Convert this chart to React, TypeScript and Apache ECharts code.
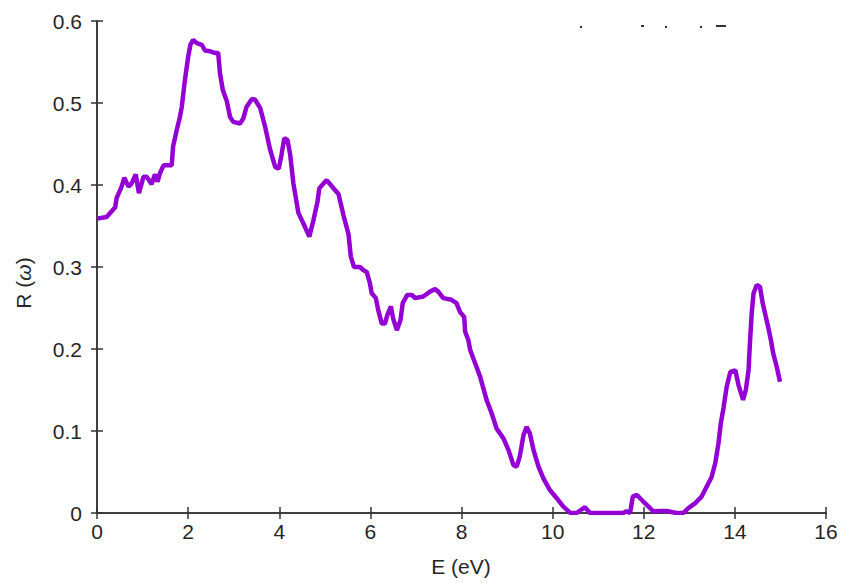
import React, { useEffect, useRef } from "react";
import * as echarts from "echarts";

const energy = [
  0, 0.21, 0.4, 0.43, 0.54, 0.6, 0.69, 0.76, 0.85, 0.92, 1.02, 1.09, 1.2, 1.27, 1.33, 1.38, 1.46, 1.64, 1.67, 1.75,
  1.82, 1.86, 1.93, 2.0, 2.05, 2.11, 2.19, 2.3, 2.37, 2.48, 2.59, 2.66, 2.7, 2.76, 2.85, 2.92, 2.99, 3.14, 3.21, 3.28,
  3.4, 3.47, 3.58, 3.69, 3.8, 3.91, 3.99, 4.05, 4.11, 4.18, 4.24, 4.31, 4.42, 4.53, 4.66, 4.75, 4.84, 4.88, 5.04, 5.19,
  5.3, 5.41, 5.52, 5.57, 5.64, 5.77, 5.85, 5.92, 5.99, 6.03, 6.12, 6.17, 6.25, 6.32, 6.37, 6.45, 6.5, 6.58, 6.66, 6.71,
  6.81, 6.91, 6.98, 7.16, 7.31, 7.42, 7.49, 7.6, 7.78, 7.89, 7.97, 8.06, 8.08, 8.15, 8.19, 8.25, 8.33, 8.41, 8.55, 8.66,
  8.77, 8.92, 9.03, 9.14, 9.21, 9.28, 9.36, 9.43, 9.5, 9.58, 9.69, 9.8, 9.94, 10.09, 10.23, 10.38, 10.53, 10.64, 10.71, 10.82,
  11.2, 11.55, 11.62, 11.7, 11.76, 11.85, 11.99, 12.1, 12.21, 12.39, 12.5, 12.72, 12.87, 12.98, 13.13, 13.27, 13.38, 13.49, 13.57, 13.64,
  13.69, 13.75, 13.82, 13.9, 14.01, 14.08, 14.18, 14.24, 14.3, 14.33, 14.37, 14.41, 14.48, 14.55, 14.61, 14.68, 14.73, 14.79, 14.84, 14.92,
  14.99,
];

const reflectivity = [
  0.359, 0.361, 0.373, 0.384, 0.398, 0.409, 0.398, 0.402, 0.413, 0.39, 0.41, 0.41, 0.401, 0.413, 0.404, 0.414, 0.424, 0.424, 0.447, 0.467,
  0.483, 0.495, 0.528, 0.556, 0.571, 0.577, 0.573, 0.571, 0.564, 0.563, 0.561, 0.561, 0.536, 0.516, 0.502, 0.483, 0.477, 0.475, 0.481, 0.495,
  0.505, 0.504, 0.494, 0.471, 0.443, 0.422, 0.42, 0.437, 0.457, 0.455, 0.437, 0.402, 0.366, 0.353, 0.337, 0.357, 0.38, 0.396, 0.406, 0.396,
  0.389, 0.363, 0.34, 0.313, 0.3, 0.3, 0.296, 0.294, 0.28, 0.268, 0.262, 0.248, 0.231, 0.231, 0.241, 0.252, 0.237, 0.223, 0.235, 0.256,
  0.266, 0.266, 0.262, 0.264, 0.27, 0.273, 0.27, 0.262, 0.26, 0.256, 0.245, 0.239, 0.221, 0.211, 0.199, 0.19, 0.178, 0.166, 0.138, 0.122,
  0.103, 0.091, 0.077, 0.0585, 0.0565, 0.069, 0.095, 0.105, 0.097, 0.077, 0.0565, 0.042, 0.028, 0.018, 0.008, 0.0004, 0, 0.0045, 0.007, 0,
  0, 0, 0.002, 0, 0.02, 0.022, 0.014, 0.008, 0.002, 0.0025, 0.0025, 0, 0, 0.006, 0.012, 0.02, 0.032, 0.044, 0.061, 0.085,
  0.109, 0.128, 0.154, 0.172, 0.174, 0.156, 0.138, 0.15, 0.174, 0.207, 0.244, 0.268, 0.278, 0.276, 0.256, 0.239, 0.227, 0.211, 0.195, 0.178,
  0.16,
];

const xTicks = [0, 2, 4, 6, 8, 10, 12, 14, 16];
const yTicks = [0, 0.1, 0.2, 0.3, 0.4, 0.5, 0.6];

const AXIS_COLOR = "#333333";
const TEXT_COLOR = "#262626";
const FONT = "'Liberation Sans', Arial, sans-serif";
const FS = 21;

export default function App() {
  const ref = useRef<HTMLDivElement>(null);

  useEffect(() => {
    if (!ref.current) return;
    const chart = echarts.init(ref.current, null, { renderer: "svg" });
    const data = energy.map((e, i) => [e, reflectivity[i]]);
    const axisLine = { show: true, lineStyle: { color: AXIS_COLOR, width: 1.5 } };
    const axisTick = { show: true, inside: true, length: 6, lineStyle: { color: AXIS_COLOR, width: 1.5 } };
    const xMin = xTicks[0];
    const xMax = xTicks[xTicks.length - 1];
    const yMin = yTicks[0];
    const yMax = yTicks[yTicks.length - 1];

    chart.setOption({
      animation: false,
      backgroundColor: "#ffffff",
      grid: { left: 97, right: 17, top: 21, bottom: 70, containLabel: false },
      xAxis: [
        {
          type: "value",
          min: xMin,
          max: xMax,
          interval: 2,
          position: "bottom",
          axisLine,
          axisTick,
          splitLine: { show: false },
          axisLabel: { color: TEXT_COLOR, fontSize: FS, fontFamily: FONT, margin: 8 },
        },
        {
          type: "value",
          min: xMin,
          max: xMax,
          interval: 2,
          position: "top",
          axisLine,
          axisTick,
          splitLine: { show: false },
          axisLabel: { show: false },
        },
      ],
      yAxis: [
        {
          type: "value",
          min: yMin,
          max: yMax,
          interval: 0.1,
          position: "left",
          axisLine,
          axisTick,
          splitLine: { show: false },
          axisLabel: {
            color: TEXT_COLOR,
            fontSize: FS,
            fontFamily: FONT,
            margin: 15,
            formatter: (v: number) => String(Math.round(v * 10) / 10),
          },
        },
        {
          type: "value",
          min: yMin,
          max: yMax,
          interval: 0.1,
          position: "right",
          axisLine,
          axisTick,
          splitLine: { show: false },
          axisLabel: { show: false },
        },
      ],
      series: [
        {
          type: "line",
          data,
          showSymbol: false,
          symbol: "none",
          lineStyle: { color: "#9400D3", width: 4.5 },
          clip: true,
        },
      ],
      graphic: [
        {
          type: "text",
          x: 461,
          y: 566,
          style: {
            text: "E (eV)",
            fill: TEXT_COLOR,
            font: `${FS}px ${FONT}`,
            align: "center",
            verticalAlign: "middle",
          },
        },
        {
          type: "text",
          x: 23,
          y: 283,
          rotation: Math.PI / 2,
          style: {
            text: "R ({w|ω})",
            fill: TEXT_COLOR,
            font: `${FS}px ${FONT}`,
            align: "center",
            verticalAlign: "middle",
            rich: { w: { fontStyle: "italic", fontSize: FS, fontFamily: FONT, fill: TEXT_COLOR } },
          },
        },
        { type: "rect", shape: { x: 580, y: 26, width: 2, height: 2 }, style: { fill: AXIS_COLOR } },
        { type: "rect", shape: { x: 641, y: 25, width: 3, height: 2 }, style: { fill: AXIS_COLOR } },
        { type: "rect", shape: { x: 665, y: 26, width: 2, height: 2 }, style: { fill: AXIS_COLOR } },
        { type: "rect", shape: { x: 700, y: 26, width: 2, height: 2 }, style: { fill: AXIS_COLOR } },
        { type: "rect", shape: { x: 716, y: 25, width: 10, height: 2 }, style: { fill: AXIS_COLOR } },
      ],
    });
    return () => chart.dispose();
  }, []);

  return <div ref={ref} style={{ width: 843, height: 583, position: "absolute", left: 0, top: 0 }} />;
}
